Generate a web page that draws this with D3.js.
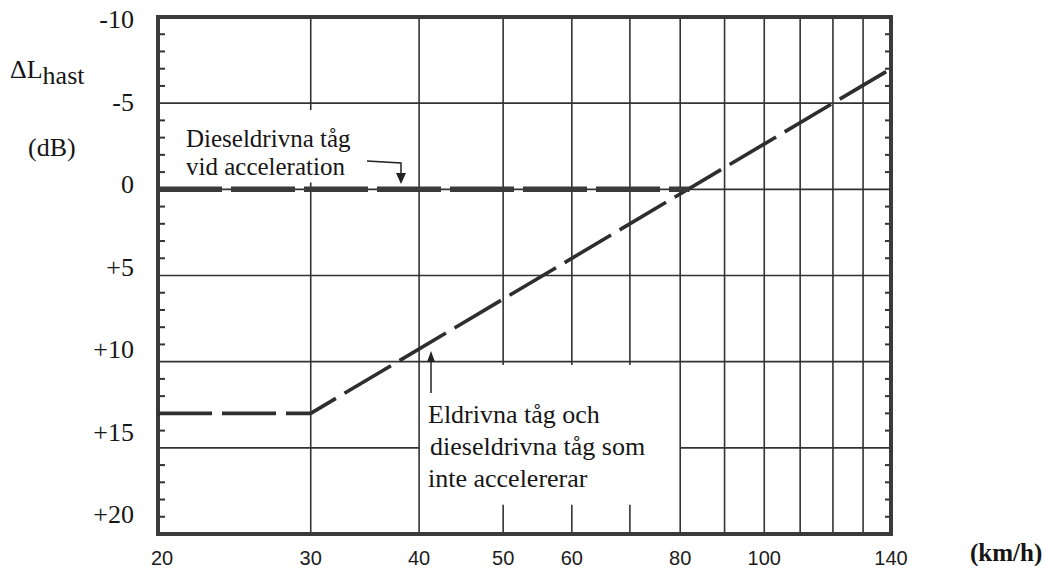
<!DOCTYPE html>
<html>
<head>
<meta charset="utf-8">
<script src="https://cdn.jsdelivr.net/npm/d3@7"></script>
<style>
  body { margin: 0; background: #fff; }
  svg { display: block; }
  .serif { font-family: "Liberation Serif", "Times New Roman", serif; fill: #161616; }
  .sans { font-family: "Liberation Sans", Arial, sans-serif; fill: #1c1c1c; }
</style>
</head>
<body>
<div id="chart"></div>
<script>
// speed axis (km/h), log scale
var speedGrid = [20, 30, 40, 50, 60, 70, 80, 90, 100, 110, 120, 130, 140];
var speedLabels = [20, 30, 40, 50, 60, 80, 100, 140];

// level axis (dB), reversed: -10 at the top
var dbGrid = [-5, 0, 5, 10, 15];
var dbLabels = [-10, -5, 0, 5, 10, 15, 20];
var dbMinor = d3.range(-10, 21);

// curves
var dieselSpeed = [20, 82];
var dieselDb = [0, 0];
var electricSpeed = [20, 30, 140];
var electricDb = [13, 13, -7];

// breaks in the printed grid (where the notes sit)
var vBreaks = [
  {speed: 30, from: -4.6, to: -0.4},
  {speed: 50, from: 10.2, to: 18.3},
  {speed: 60, from: 10.2, to: 18.3},
  {speed: 70, from: 10.2, to: 18.3}
];
var hBreaks = [{db: 15, from: 40, to: 80}];

var width = 1045, height = 568;
var margin = {top: 17, left: 158, bottom: 34, right: 154};

var svg = d3.select("#chart").append("svg")
    .attr("width", width)
    .attr("height", height);

var x = d3.scaleLog()
    .domain([20, 140])
    .range([margin.left, width - margin.right]);

var y = d3.scaleLinear()
    .domain([-10, 20])
    .range([margin.top, height - margin.bottom]);

// the printed labels sit a little tighter than the grid
var yLab = d3.scaleLinear()
    .domain([-10, 20])
    .range([28, 523]);

var ink = "#333";

// vertical grid, split where there is a break
var vSegs = [];
speedGrid.slice(1, -1).forEach(function(s) {
  var b = vBreaks.find(function(d) { return d.speed === s; });
  if (b) {
    vSegs.push({s: s, a: -10, b: b.from});
    vSegs.push({s: s, a: b.to, b: 20});
  } else {
    vSegs.push({s: s, a: -10, b: 20});
  }
});

svg.append("g")
    .attr("class", "vgrid")
  .selectAll("line")
  .data(vSegs)
  .enter().append("line")
    .attr("x1", function(d) { return x(d.s); })
    .attr("x2", function(d) { return x(d.s); })
    .attr("y1", function(d) { return y(d.a); })
    .attr("y2", function(d) { return y(d.b); })
    .attr("stroke", ink)
    .attr("stroke-width", 1.6);

var hSegs = [];
dbGrid.forEach(function(v) {
  var b = hBreaks.find(function(d) { return d.db === v; });
  if (b) {
    hSegs.push({v: v, a: 20, b: b.from});
    hSegs.push({v: v, a: b.to, b: 140});
  } else {
    hSegs.push({v: v, a: 20, b: 140});
  }
});

svg.append("g")
    .attr("class", "hgrid")
  .selectAll("line")
  .data(hSegs)
  .enter().append("line")
    .attr("x1", function(d) { return x(d.a); })
    .attr("x2", function(d) { return x(d.b); })
    .attr("y1", function(d) { return y(d.v); })
    .attr("y2", function(d) { return y(d.v); })
    .attr("stroke", ink)
    .attr("stroke-width", 1.6);

// minor ticks every dB, inside on both sides
var minor = dbMinor.filter(function(d) { return d % 5 !== 0; });
svg.append("g")
  .selectAll("line.l")
  .data(minor)
  .enter().append("line")
    .attr("x1", x(20))
    .attr("x2", x(20) + 7)
    .attr("y1", function(d) { return y(d); })
    .attr("y2", function(d) { return y(d); })
    .attr("stroke", ink)
    .attr("stroke-width", 2);

svg.append("g")
  .selectAll("line.r")
  .data(minor)
  .enter().append("line")
    .attr("x1", x(140))
    .attr("x2", x(140) - 6)
    .attr("y1", function(d) { return y(d); })
    .attr("y2", function(d) { return y(d); })
    .attr("stroke", ink)
    .attr("stroke-width", 2);

// frame
svg.append("rect")
    .attr("x", x(20))
    .attr("y", y(-10))
    .attr("width", x(140) - x(20))
    .attr("height", y(20) - y(-10))
    .attr("fill", "none")
    .attr("stroke", "#3a3a3a")
    .attr("stroke-width", 4);

// curves
var line = d3.line()
    .x(function(d) { return x(d[0]); })
    .y(function(d) { return y(d[1]); });

svg.append("path")
    .datum(d3.zip(electricSpeed, electricDb))
    .attr("d", line)
    .attr("fill", "none")
    .attr("stroke", "#2e2e2e")
    .attr("stroke-width", 3.6)
    .attr("stroke-dasharray", "54,10");

svg.append("path")
    .datum(d3.zip(dieselSpeed, dieselDb))
    .attr("d", line)
    .attr("fill", "none")
    .attr("stroke", "#3a3a3a")
    .attr("stroke-width", 5.5)
    .attr("stroke-dasharray", "64,9");

// tick labels
svg.append("g")
  .selectAll("text")
  .data(dbLabels)
  .enter().append("text")
    .attr("class", "serif")
    .attr("x", 134)
    .attr("y", function(d) { return yLab(d); })
    .attr("text-anchor", "end")
    .style("font-size", "26px")
    .text(function(d) { return d > 0 ? "+" + d : String(d); });

svg.append("g")
  .selectAll("text")
  .data(speedLabels)
  .enter().append("text")
    .attr("class", "sans")
    .attr("x", function(d) { return d === 20 ? x(d) + 4 : x(d); })
    .attr("y", 565)
    .attr("text-anchor", "middle")
    .style("font-size", "20px")
    .text(function(d) { return d; });

svg.append("text")
    .attr("class", "serif")
    .attr("x", 970)
    .attr("y", 561)
    .style("font-size", "25px")
    .style("font-weight", "bold")
    .text("(km/h)");

// y title
var yt = svg.append("text")
    .attr("class", "serif")
    .attr("x", 10)
    .attr("y", 78)
    .style("font-size", "26px");
yt.append("tspan").text("ΔL");
yt.append("tspan").attr("dy", 6).text("hast");

svg.append("text")
    .attr("class", "serif")
    .attr("x", 28)
    .attr("y", 156)
    .style("font-size", "26px")
    .text("(dB)");

// notes
var note1 = ["Dieseldrivna tåg", "vid acceleration"];
svg.append("g")
  .selectAll("text")
  .data(note1)
  .enter().append("text")
    .attr("class", "serif")
    .attr("x", 186)
    .attr("y", function(d, i) { return 147 + i * 28; })
    .style("font-size", "25px")
    .text(function(d) { return d; });

var note2 = ["Eldrivna tåg och", "dieseldrivna tåg som", "inte accelererar"];
svg.append("g")
  .selectAll("text")
  .data(note2)
  .enter().append("text")
    .attr("class", "serif")
    .attr("x", function(d, i) { return i === 1 ? 430 : 428; })
    .attr("y", function(d, i) { return 423 + i * 32; })
    .style("font-size", "26px")
    .text(function(d) { return d; });

// arrows
svg.append("path")
    .attr("d", "M367,161 L401,163 L401,174")
    .attr("fill", "none")
    .attr("stroke", "#222")
    .attr("stroke-width", 1.5);
svg.append("path")
    .attr("d", "M396,173 L406,173 L401,184 Z")
    .attr("fill", "#222");

svg.append("path")
    .attr("d", "M431,393 L431,361")
    .attr("fill", "none")
    .attr("stroke", "#222")
    .attr("stroke-width", 1.5);
svg.append("path")
    .attr("d", "M427,362 L435,362 L431,351 Z")
    .attr("fill", "#222");
</script>
</body>
</html>
